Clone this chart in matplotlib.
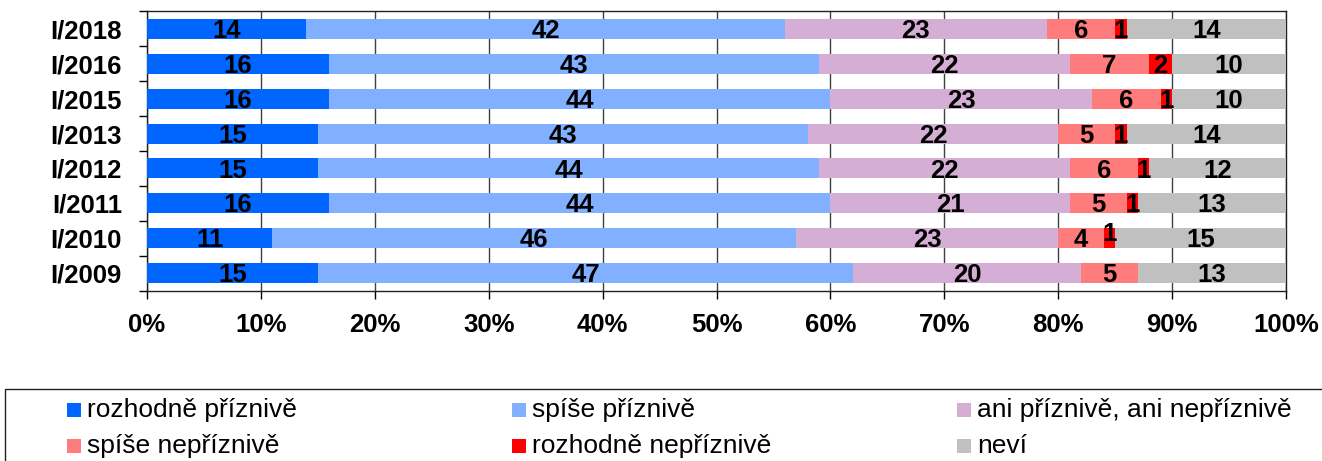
import matplotlib
matplotlib.use("Agg")
import matplotlib.pyplot as plt
import numpy as np
from matplotlib.patches import Rectangle

plt.rcParams['font.family'] = ['Liberation Sans', 'DejaVu Sans']

years = ["I/2018", "I/2016", "I/2015", "I/2013", "I/2012", "I/2011", "I/2010", "I/2009"]
series_names = ["rozhodně příznivě", "spíše příznivě", "ani příznivě, ani nepříznivě",
                "spíše nepříznivě", "rozhodně nepříznivě", "neví"]
rozhodne_priznive = [14, 16, 16, 15, 15, 16, 11, 15]
spise_priznive = [42, 43, 44, 43, 44, 44, 46, 47]
ani_ani = [23, 22, 23, 22, 22, 21, 23, 20]
spise_nepriznive = [6, 7, 6, 5, 6, 5, 4, 5]
rozhodne_nepriznive = [1, 2, 1, 1, 1, 1, 1, 0]
nevi = [14, 10, 10, 14, 12, 13, 15, 13]
colors = ["#0066FF", "#80B0FF", "#D4AED4", "#FF7C7C", "#FF0000", "#C0C0C0"]
xticks = [0, 10, 20, 30, 40, 50, 60, 70, 80, 90, 100]

data = [rozhodne_priznive, spise_priznive, ani_ani, spise_nepriznive, rozhodne_nepriznive, nevi]

W, H = 1322, 461
fig = plt.figure(figsize=(W/100, H/100), dpi=100)
ax = fig.add_axes([147/W, 1 - 290.5/H, (1286-147)/W, (290.5-11.5)/H])

n = len(years)
ypos = np.arange(n)[::-1]
left = np.zeros(n)
for vals, col, name in zip(data, colors, series_names):
    vals = np.array(vals, dtype=float)
    ax.barh(ypos, vals, left=left, height=0.57, color=col, zorder=3, label=name)
    for i in range(n):
        v = vals[i]
        if v > 0:
            dy = -0.06
            if years[i] == "I/2010" and name == "rozhodně nepříznivě":
                dy = 0.12
            ax.text(left[i] + v/2, ypos[i] + dy, f"{int(v)}", ha="center", va="center",
                    fontsize=18.5, fontweight="bold", color="black", zorder=4)
    left += vals

ax.set_xlim(0, 100)
ax.set_ylim(-0.5, n - 0.5)
ax.set_xticks(xticks)
ax.set_xticklabels([f"{t}%" for t in xticks], fontsize=18.5, fontweight="bold")
ax.set_yticks(ypos)
ax.set_yticklabels(years, fontsize=18.5, fontweight="bold")
ax.set_yticks(np.arange(-0.5, n, 1), minor=True)
ax.tick_params(axis="y", which="major", length=0, pad=18)
ax.tick_params(axis="y", which="minor", length=6, width=1, direction="out")
ax.tick_params(axis="x", which="major", length=6, width=1, direction="out", pad=10)
ax.xaxis.grid(True, color="#404040", linewidth=1, zorder=0)
for s in ["top", "right", "left", "bottom"]:
    ax.spines[s].set_color("#202020")
    ax.spines[s].set_linewidth(1)

# Legend (manual layout, 3 columns x 2 rows)
fig.patches.append(Rectangle((5/W, -0.1), 1.2, (H - 389)/H + 0.1, transform=fig.transFigure,
                             facecolor="white", edgecolor="#202020", linewidth=1))
order = [0, 1, 2, 3, 4, 5]
col_x = [67, 512, 957]
row_y = [410, 446]
sq = 14
for k, idx in enumerate(order):
    r, c = divmod(k, 3)
    x0, yc = col_x[c], row_y[r]
    fig.patches.append(Rectangle((x0/W, 1 - (yc + sq/2)/H), sq/W, sq/H, transform=fig.transFigure,
                                 facecolor=colors[idx], edgecolor="none"))
    fig.text((x0 + sq + 6)/W, 1 - yc/H, series_names[idx], fontsize=19, va="center", ha="left")

fig.savefig("out.png", dpi=100)
